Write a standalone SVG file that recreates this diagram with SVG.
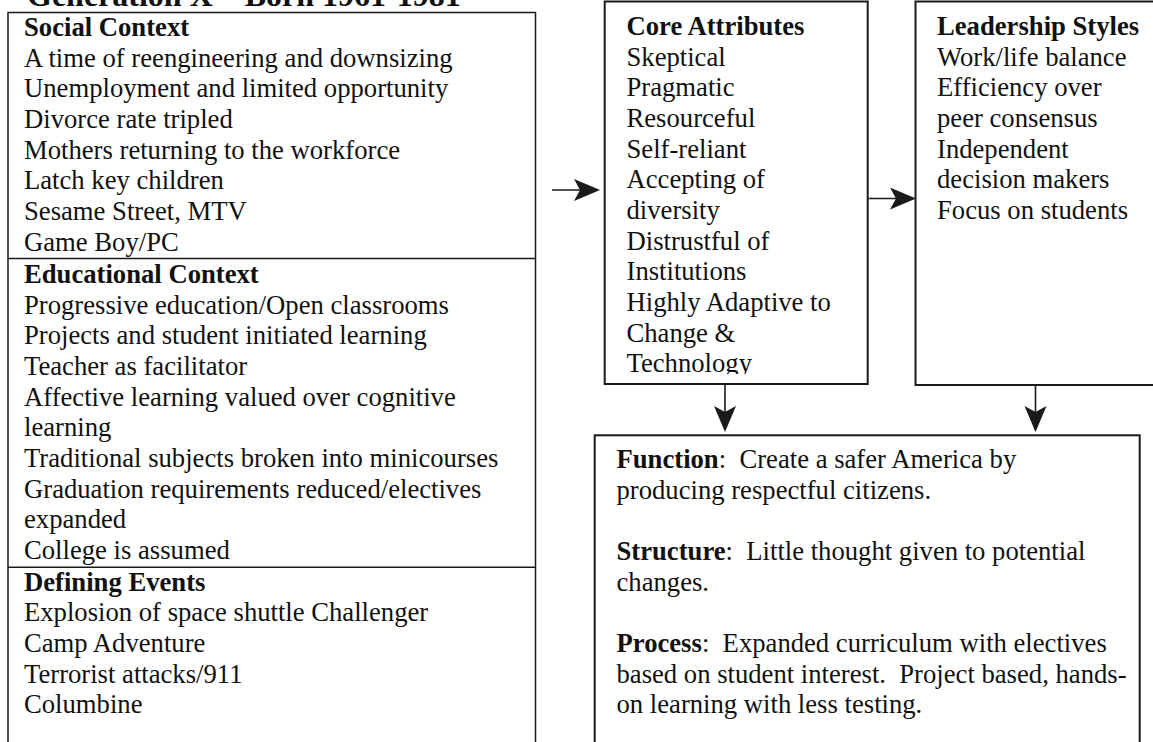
<svg xmlns="http://www.w3.org/2000/svg" width="1153" height="742" viewBox="0 0 1153 742">
<style>
text{font-family:"Liberation Serif","Times New Roman",serif;font-size:26.67px;fill:#111}
.b{font-weight:bold}
.title{font-weight:bold;font-size:32px}
.box{fill:#fff;stroke:#1a1a1a;stroke-width:2}
.lbox{fill:#fff;stroke:#1a1a1a;stroke-width:1.5}
.div{stroke:#1a1a1a;stroke-width:1.5}
.conn{stroke:#1a1a1a;stroke-width:1.6;fill:none;marker-end:url(#ah)}
</style>
<defs>
<marker id="ah" markerUnits="userSpaceOnUse" markerWidth="30" markerHeight="26" refX="24" refY="11" orient="auto">
<path d="M0,0 L26,11 L0,22 L6,11 Z" fill="#1a1a1a"/>
</marker>
<clipPath id="coreclip"><rect x="605" y="0" width="262" height="374"/></clipPath>
</defs>
<rect width="1153" height="742" fill="#fff"/>
<text class="title" x="27" y="6">Generation X – Born 1961-1981</text>

<g id="left-box">
<rect class="lbox" x="8" y="12.5" width="527.5" height="740"/>
<line class="div" x1="8" y1="258.5" x2="535.5" y2="258.5"/>
<line class="div" x1="8" y1="567.3" x2="535.5" y2="567.3"/>
<text class="b" x="24" y="36">Social Context</text>
<text x="24" y="66.7">A time of reengineering and downsizing</text>
<text x="24" y="97.3">Unemployment and limited opportunity</text>
<text x="24" y="128">Divorce rate tripled</text>
<text x="24" y="158.7">Mothers returning to the workforce</text>
<text x="24" y="189.3">Latch key children</text>
<text x="24" y="220">Sesame Street, MTV</text>
<text x="24" y="250.7">Game Boy/PC</text>
<text class="b" x="24" y="283">Educational Context</text>
<text x="24" y="313.7">Progressive education/Open classrooms</text>
<text x="24" y="344.3">Projects and student initiated learning</text>
<text x="24" y="375">Teacher as facilitator</text>
<text x="24" y="405.7">Affective learning valued over cognitive</text>
<text x="24" y="436.3">learning</text>
<text x="24" y="467">Traditional subjects broken into minicourses</text>
<text x="24" y="497.7">Graduation requirements reduced/electives</text>
<text x="24" y="528.3">expanded</text>
<text x="24" y="559">College is assumed</text>
<text class="b" x="24" y="590.5">Defining Events</text>
<text x="24" y="621.2">Explosion of space shuttle Challenger</text>
<text x="24" y="651.8">Camp Adventure</text>
<text x="24" y="682.5">Terrorist attacks/911</text>
<text x="24" y="713.2">Columbine</text>
</g>

<g id="core-attributes">
<rect class="box" x="604.7" y="1.5" width="263" height="382.5"/>
<g clip-path="url(#coreclip)">
<text class="b" x="626.5" y="35">Core Attributes</text>
<text x="626.5" y="65.7">Skeptical</text>
<text x="626.5" y="96.3">Pragmatic</text>
<text x="626.5" y="127">Resourceful</text>
<text x="626.5" y="157.7">Self-reliant</text>
<text x="626.5" y="188.3">Accepting of</text>
<text x="626.5" y="219">diversity</text>
<text x="626.5" y="249.7">Distrustful of</text>
<text x="626.5" y="280.3">Institutions</text>
<text x="626.5" y="311">Highly Adaptive to</text>
<text x="626.5" y="341.7">Change &amp;</text>
<text x="626.5" y="372.3">Technology</text>
</g>
</g>

<g id="leadership-styles">
<rect class="box" x="915.5" y="1.5" width="245" height="383.5"/>
<text class="b" x="937" y="35">Leadership Styles</text>
<text x="937" y="65.7">Work/life balance</text>
<text x="937" y="96.3">Efficiency over</text>
<text x="937" y="127">peer consensus</text>
<text x="937" y="157.7">Independent</text>
<text x="937" y="188.3">decision makers</text>
<text x="937" y="219">Focus on students</text>
</g>

<g id="outcomes">
<rect class="box" x="594.7" y="435.3" width="545" height="320"/>
<text x="616.5" y="468" xml:space="preserve"><tspan class="b">Function</tspan>:  Create a safer America by</text>
<text x="616.5" y="498.5">producing respectful citizens.</text>
<text x="616.5" y="560" xml:space="preserve"><tspan class="b">Structure</tspan>:  Little thought given to potential</text>
<text x="616.5" y="590.5">changes.</text>
<text x="616.5" y="652" xml:space="preserve"><tspan class="b">Process</tspan>:  Expanded curriculum with electives</text>
<text x="616.5" y="682.5" xml:space="preserve">based on student interest.  Project based, hands-</text>
<text x="616.5" y="713">on learning with less testing.</text>
</g>

<g id="connectors">
<line class="conn" x1="552" y1="190" x2="598" y2="190"/>
<line class="conn" x1="868.7" y1="198.5" x2="914" y2="198.5"/>
<line class="conn" x1="725" y1="384" x2="725" y2="430"/>
<line class="conn" x1="1035.5" y1="385" x2="1035.5" y2="430"/>
</g>
</svg>
